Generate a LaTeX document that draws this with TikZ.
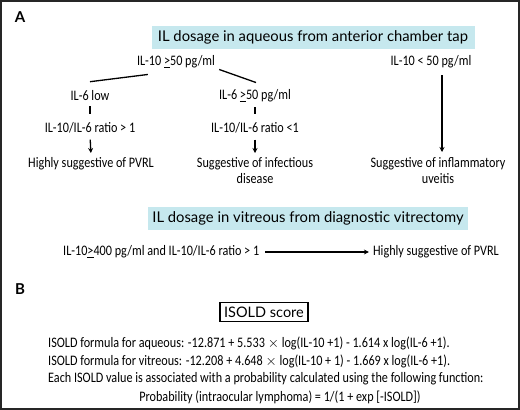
\documentclass[tikz,border=0pt]{standalone}
\usepackage{fontspec}
\setmainfont{Carlito}[FakeStretch=0.84]
\newfontfamily\headfont{Lato}
\usetikzlibrary{positioning,arrows.meta}
\definecolor{headcyan}{HTML}{C6E8EE}

\begin{document}
\begin{tikzpicture}[x=1pt,y=-1pt,
    font=\fontsize{14.5}{16}\selectfont,
    txt/.style={inner sep=1pt,align=center},
    head/.style={fill=headcyan,inner xsep=4pt,minimum height=23pt,
      font=\headfont\fontsize{14.8}{16}\selectfont},
    panel/.style={font=\headfont\bfseries\fontsize{15}{16}\selectfont},
    link/.style={line width=1.3pt},
    arr/.style={-{Stealth[length=5pt,width=5pt]},line width=1.3pt}]
  \useasboundingbox (0,0) rectangle (520,410);
  \draw[line width=2pt,black!85] (1,1) rectangle (519,409);

  % --- Panel A: aqueous ---
  \node[panel] (labA) at (20,17) {A};
  \node[head,minimum width=323pt] (headaq) at (313,37) {IL dosage in aqueous from anterior chamber tap};
  \node[txt] (il10hi) at (176,62) {IL-10 \underline{>}50 pg/ml};
  \node[txt] (il10lo) at (431,62) {IL-10 < 50 pg/ml};
  \node[txt] (il6low) at (90,96) {IL-6 low};
  \node[txt] (il6hi) at (255,96) {IL-6 \underline{>}50 pg/ml};
  \node[txt] (ratiohi) at (90,128) {IL-10/IL-6 ratio > 1};
  \node[txt] (ratiolo) at (255,128) {IL-10/IL-6 ratio <1};
  \node[txt,anchor=north] (pvrl) at (91,156) {Highly suggestive of PVRL};
  \node[txt,anchor=north] (infect) at (255,156) {Suggestive of infectious\\disease};
  \node[txt,anchor=north] (uveitis) at (438,156) {Suggestive of inflammatory\\uveitis};

  % --- Branching edges ---
  \draw[link] ([shift={(12,5)}]il10hi.south west) -- ([yshift=8pt]il6low.north);
  \draw[link] ([shift={(3,0)}]il10hi.south east) -- ([shift={(1,-6)}]il6hi.north);
  \draw[link,shorten <=4pt,shorten >=7pt] (il6low) -- (ratiohi);
  \draw[link,shorten <=4pt,shorten >=7pt] (il6hi) -- (ratiolo);
  \draw[arr,shorten <=5pt,shorten >=3pt] (ratiohi.south) -- (pvrl.north);
  \draw[arr,shorten <=5pt,shorten >=3pt] (ratiolo.south) -- (infect.north);
  \draw[arr] ([shift={(11,6)}]il10lo.south) -- ([shift={(11,-4)}]il10lo.south |- uveitis.north);

  % --- Panel A: vitreous ---
  \node[head] (headvit) at (308,218) {IL dosage in vitreous from diagnostic vitrectomy};
  \node[txt,anchor=west] (vitcond) at (62,252) {IL-10\underline{>}400 pg/ml and IL-10/IL-6 ratio > 1};
  \node[txt,anchor=east] (vitres) at (500,252) {Highly suggestive of PVRL};
  \draw[arr,shorten <=5pt,shorten >=3pt] (vitcond.east) -- (vitres.west);

  % --- Panel B: ISOLD score ---
  \node[panel] (labB) at (20,289) {B};
  \node[draw,line width=1.4pt,font=\headfont\fontsize{14.5}{16}\selectfont,inner sep=4pt] (isold) at (264,312) {ISOLD score};
  \node[txt,anchor=west] (formaq) at (47,343) {ISOLD formula for aqueous: -12.871 + 5.533 $\times$ log(IL-10 +1) - 1.614 x log(IL-6 +1).};
  \node[txt,anchor=west] (formvit) at (47,361) {ISOLD formula for vitreous: -12.208 + 4.648 $\times$ log(IL-10 + 1) - 1.669 x log(IL-6 +1).};
  \node[txt,anchor=west] (formeach) at (47,379) {Each ISOLD value is associated with a probability calculated using the following function:};
  \node[txt] (formprob) at (280,397) {Probability (intraocular lymphoma) = 1/(1 + exp [-ISOLD])};
\end{tikzpicture}
\end{document}
